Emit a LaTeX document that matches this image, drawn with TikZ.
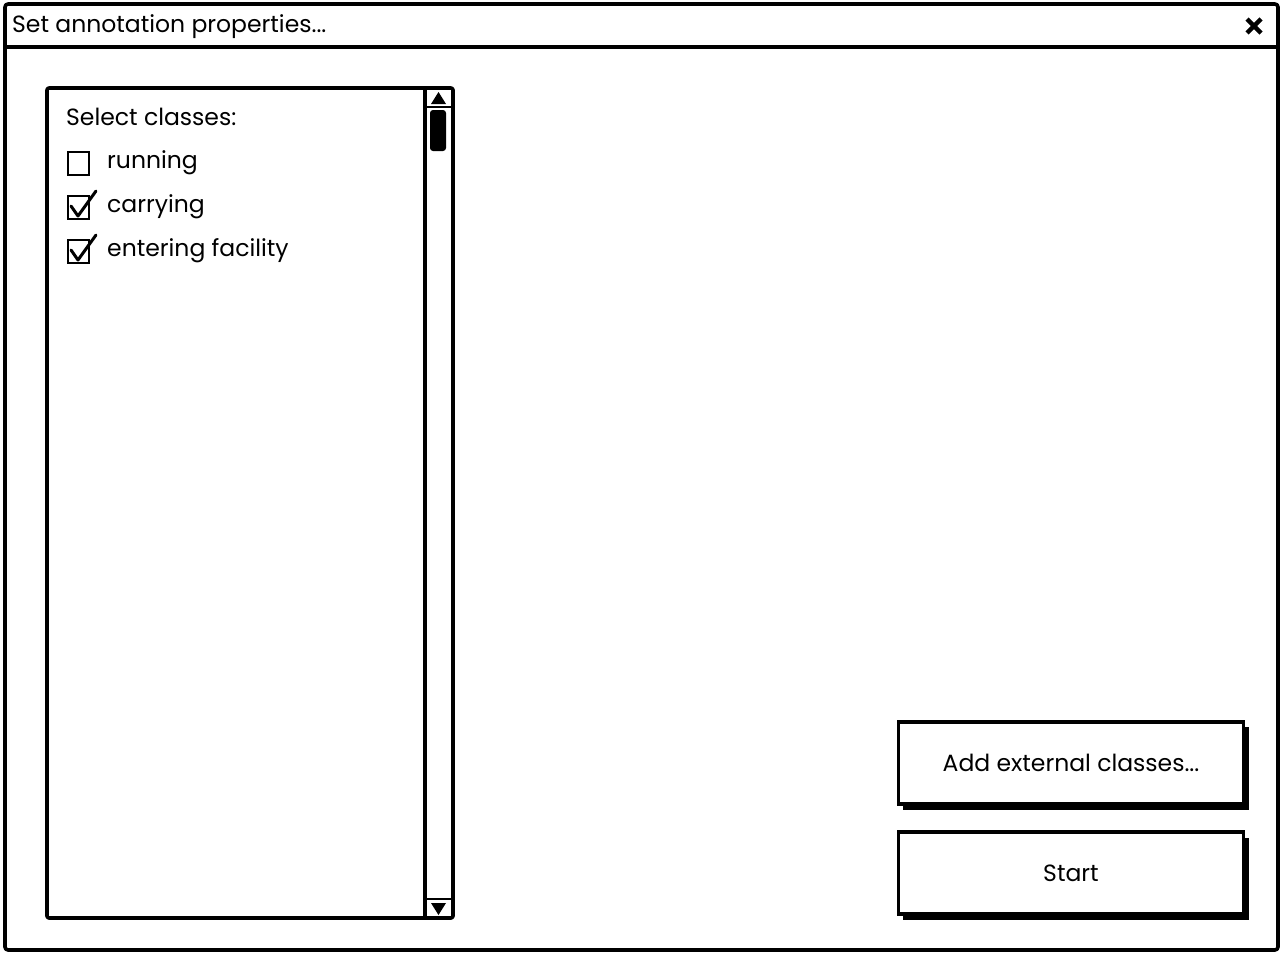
\documentclass[tikz,border=0pt]{standalone}
\usepackage{fontspec}
\setmainfont{Poppins}
\usetikzlibrary{calc}

\begin{document}
\begin{tikzpicture}[
		x=1pt, y=-1pt, % pixel grid, y downwards
		font=\fontsize{23.5}{28}\selectfont,
		frame/.style={draw=black, line width=3.6pt, line join=round},
		tick/.style={draw=black, line width=3pt, line join=round, line cap=round},
		btn/.style={draw=black, line width=3.2pt, fill=white, minimum width=345pt, minimum height=82pt, inner sep=0pt},
		label/.style={anchor=west, inner sep=0pt}
		]
		
		% --- 1. Canvas ---
		\useasboundingbox (0,0) rectangle (1282,954);
		\fill[white] (0,0) rectangle (1282,954);
		
		% --- 2. Window and title bar ---
		\coordinate (WTL) at (5,4);
		\coordinate (WBR) at (1278,950);
		\draw[frame, rounded corners=3pt] (WTL) rectangle (WBR);
		\coordinate (TL) at (5,47);
		\coordinate (TR) at (1278,47);
		\draw[frame] (TL) -- (TR);
		\node[label] (title) at (12,27) {Set annotation properties...};
		% close cross
		\coordinate (X) at (1254,26);
		\draw[line width=4.5pt] ($(X)+(-7,-7)$) -- ($(X)+(7,7)$);
		\draw[line width=4.5pt] ($(X)+(-7,7)$) -- ($(X)+(7,-7)$);
		
		% --- 3. Class list with scroll bar ---
		\coordinate (LTL) at (47,88);
		\coordinate (LBR) at (453,918);
		\draw[frame, rounded corners=2pt] (LTL) rectangle (LBR);
		\coordinate (ST) at (425,88);
		\coordinate (SB) at (425,918);
		\draw[frame] (ST) -- (SB);
		% arrow boxes
		\draw[line width=2.6pt] (425,107) -- (453,107);
		\draw[line width=2.6pt] (425,899) -- (453,899);
		\fill (431,104) -- (446,104) -- (438.5,92) -- cycle;
		\fill (431,903) -- (446,903) -- (438.5,915) -- cycle;
		% thumb
		\fill[rounded corners=3pt] (430,110) rectangle (446,151);
		
		\node[label] (head) at (66,117) {Select classes:};
		
		% --- 4. Check boxes ---
		\foreach \name/\txt/\yy/\ok in {run/running/163/0, carry/carrying/207/1, enter/entering facility/251/1} {
			\draw[line width=2.6pt] (68,\yy-11) rectangle (89,\yy+12);
			\node[label] (\name) at (107,\yy) {\txt};
			\ifnum\ok=1
				\draw[tick] (71,\yy-1) -- (78,\yy+9) -- (96,\yy-16);
			\fi
		}
		
		% --- 5. Buttons with shadow ---
		\fill (903,727) rectangle (1249,810);
		\node[btn] (add) at (1071,763) {Add external classes...};
		\fill (903,838) rectangle (1249,920);
		\node[btn] (start) at (1071,873) {Start};
		
	\end{tikzpicture}
\end{document}
